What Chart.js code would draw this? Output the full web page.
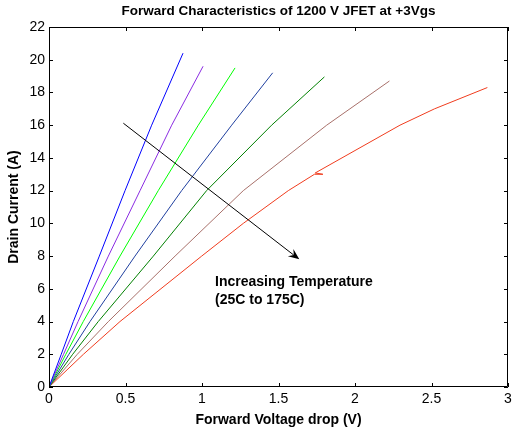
<!DOCTYPE html>
<html>
<head>
<meta charset="utf-8">
<script src="https://cdn.jsdelivr.net/npm/chart.js@4.4.1/dist/chart.umd.min.js"></script>
<style>
  html, body { margin: 0; padding: 0; background: #fff; overflow: hidden; }
</style>
</head>
<body>
<canvas id="c" width="512" height="427"></canvas>
<script>
// tick labels
const xTicks = [0, 0.5, 1, 1.5, 2, 2.5, 3];
const yTicks = [0, 2, 4, 6, 8, 10, 12, 14, 16, 18, 20, 22];

// forward voltage (V) and drain current (A), one pair per temperature
const v25 = [0, 0.08, 0.159, 0.329, 0.497, 0.671, 0.876];
const i25 = [0, 2, 4, 8, 12, 16, 20.4];
const v50 = [0, 0.095, 0.19, 0.388, 0.595, 0.802, 1.007];
const i50 = [0, 2, 4, 8, 12, 16, 19.6];
const v75 = [0, 0.11, 0.224, 0.464, 0.714, 0.976, 1.216];
const i75 = [0, 2, 4, 8, 12, 16, 19.5];
const v100 = [0, 0.13, 0.268, 0.562, 0.867, 1.194, 1.462];
const i100 = [0, 2, 4, 8, 12, 16, 19.2];
const v125 = [0, 0.155, 0.322, 0.682, 1.03, 1.455, 1.80];
const i125 = [0, 2, 4, 8, 12, 16, 18.95];
const v150 = [0, 0.185, 0.388, 0.824, 1.27, 1.815, 2.225];
const i150 = [0, 2, 4, 8, 12, 16, 18.7];
const v175 = [0, 0.225, 0.464, 0.998, 1.27, 1.564, 1.735, 1.79, 1.74, 2.294, 2.52, 2.865];
const i175 = [0, 2, 4, 8, 10, 12, 13.0, 13.0, 13.08, 16, 17, 18.3];

// arrow (data coords) and its note
const arrowFrom = [0.486, 16.12];
const arrowTo = [1.636, 7.8];
const noteLines = ["Increasing Temperature", "(25C to 175C)"];
const noteAt = [1.085, 6.38];

const FONT = "'Liberation Sans', Arial, sans-serif";

function pts(v, i) {
  return v.map((x, k) => ({ x: x, y: i[k] }));
}

const series = [
  [v25, i25, "#0000ff"],
  [v50, i50, "#8a2be2"],
  [v75, i75, "#00ff00"],
  [v100, i100, "#1f3f9f"],
  [v125, i125, "#008000"],
  [v150, i150, "#a8706a"],
  [v175, i175, "#f03c1e"]
];

// box, inward ticks, arrow and text
const extras = {
  id: "extras",
  afterDraw(chart) {
    const ctx = chart.ctx;
    const a = chart.chartArea;
    const xs = chart.scales.x, ys = chart.scales.y;
    ctx.save();
    ctx.strokeStyle = "#000";
    ctx.lineWidth = 1;
    ctx.beginPath();
    ctx.rect(Math.round(a.left) + 0.5, Math.round(a.top) + 0.5,
      Math.round(a.right - a.left) - 1, Math.round(a.bottom - a.top) - 1);
    xTicks.forEach(v => {
      const p = Math.round(xs.getPixelForValue(v)) + 0.5;
      ctx.moveTo(p, a.bottom); ctx.lineTo(p, a.bottom - 4);
      ctx.moveTo(p, a.top); ctx.lineTo(p, a.top + 4);
    });
    yTicks.forEach(v => {
      const p = Math.round(ys.getPixelForValue(v)) + 0.5;
      ctx.moveTo(a.left, p); ctx.lineTo(a.left + 4, p);
      ctx.moveTo(a.right, p); ctx.lineTo(a.right - 4, p);
    });
    ctx.stroke();

    // arrow
    const x0 = xs.getPixelForValue(arrowFrom[0]), y0 = ys.getPixelForValue(arrowFrom[1]);
    const x1 = xs.getPixelForValue(arrowTo[0]), y1 = ys.getPixelForValue(arrowTo[1]);
    const ang = Math.atan2(y1 - y0, x1 - x0);
    const len = 11, half = 4.5, notch = 7;
    ctx.beginPath();
    ctx.moveTo(x0, y0);
    ctx.lineTo(x1 - Math.cos(ang) * notch, y1 - Math.sin(ang) * notch);
    ctx.stroke();
    ctx.fillStyle = "#000";
    ctx.beginPath();
    ctx.moveTo(x1, y1);
    ctx.lineTo(x1 - Math.cos(ang) * len + Math.sin(ang) * half, y1 - Math.sin(ang) * len - Math.cos(ang) * half);
    ctx.lineTo(x1 - Math.cos(ang) * notch, y1 - Math.sin(ang) * notch);
    ctx.lineTo(x1 - Math.cos(ang) * len - Math.sin(ang) * half, y1 - Math.sin(ang) * len + Math.cos(ang) * half);
    ctx.closePath();
    ctx.fill();

    // note
    ctx.font = "bold 14px " + FONT;
    ctx.textAlign = "left";
    ctx.textBaseline = "middle";
    const nx = xs.getPixelForValue(noteAt[0]);
    const ny = ys.getPixelForValue(noteAt[1]);
    noteLines.forEach((t, k) => ctx.fillText(t, nx, ny + k * 17.5));
    ctx.restore();
  }
};

new Chart(document.getElementById("c"), {
  type: "scatter",
  data: {
    datasets: series.map(s => ({
      data: pts(s[0], s[1]),
      showLine: true,
      borderColor: s[2],
      backgroundColor: s[2],
      borderWidth: 1,
      pointRadius: 0,
      tension: 0
    }))
  },
  options: {
    responsive: false,
    animation: false,
    devicePixelRatio: 1,
    layout: { padding: { top: 0, right: 0, left: 0, bottom: 0 } },
    plugins: {
      legend: { display: false },
      tooltip: { enabled: false },
      title: {
        display: true,
        fullSize: false,
        text: "Forward Characteristics of 1200 V JFET at +3Vgs",
        color: "#000",
        font: { family: FONT, size: 13.5, weight: "bold", lineHeight: 1.2 },
        padding: { top: 3, bottom: 7.8 }
      }
    },
    scales: {
      x: {
        type: "linear",
        min: 0, max: 3,
        afterBuildTicks: s => { s.ticks = xTicks.map(v => ({ value: v })); },
        afterFit: s => { s.height = 40; s.paddingRight = 4; },
        grid: { display: false, drawTicks: false },
        border: { display: false },
        ticks: {
          color: "#000", padding: 4, font: { family: FONT, size: 14 },
          callback: v => String(v)
        },
        title: {
          display: true,
          text: "Forward Voltage drop (V)",
          color: "#000",
          font: { family: FONT, size: 14, weight: "bold", lineHeight: 1.0 },
          padding: { top: 0, bottom: 0 }
        }
      },
      y: {
        type: "linear",
        min: 0, max: 22,
        afterBuildTicks: s => { s.ticks = yTicks.map(v => ({ value: v })); },
        afterFit: s => { s.width = 49; },
        grid: { display: false, drawTicks: false },
        border: { display: false },
        ticks: {
          color: "#000", padding: 4, font: { family: FONT, size: 14 },
          callback: v => String(v)
        },
        title: {
          display: true,
          text: "Drain Current (A)",
          color: "#000",
          font: { family: FONT, size: 14, weight: "bold", lineHeight: 1.4 },
          padding: { top: 4, bottom: 0 }
        }
      }
    }
  },
  plugins: [extras]
});
</script>
</body>
</html>
